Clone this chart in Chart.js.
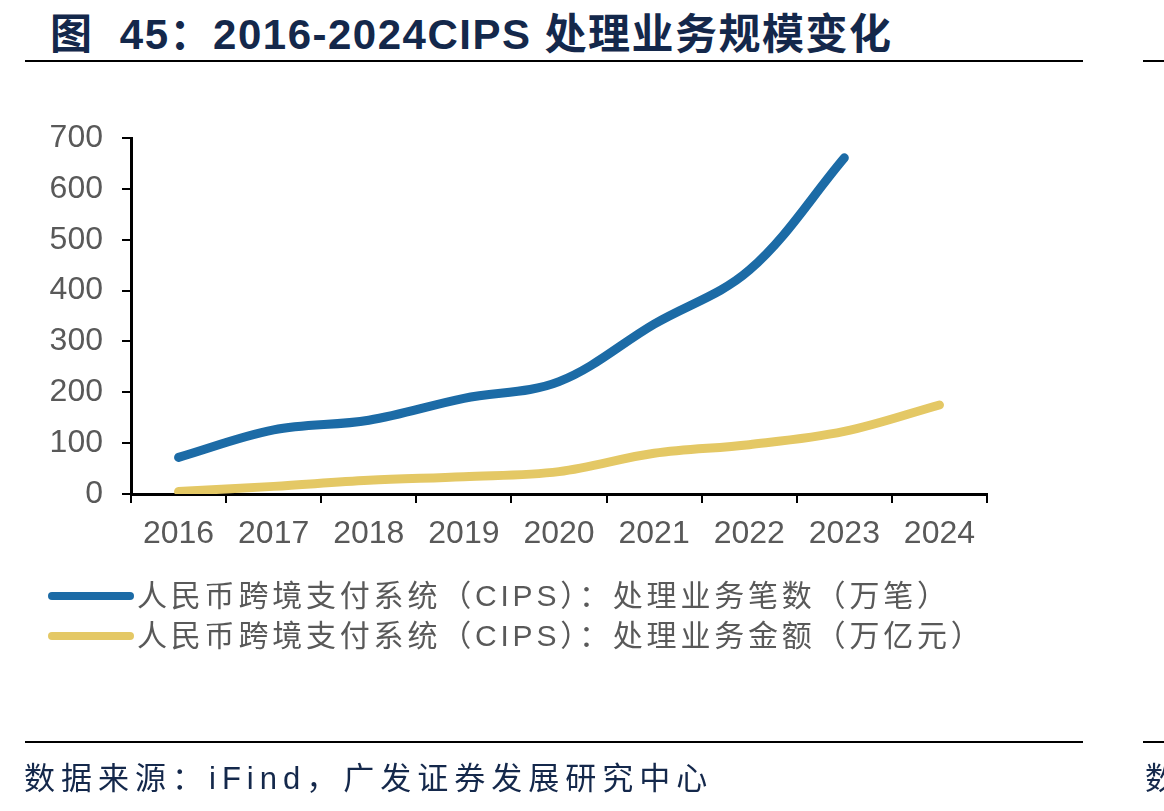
<!DOCTYPE html>
<html>
<head>
<meta charset="utf-8">
<script src="https://cdn.jsdelivr.net/npm/chart.js@4.4.1/dist/chart.umd.min.js"></script>
<style>
  body { margin: 0; background: #fff; width: 1164px; height: 811px; overflow: hidden; position: relative; font-family: "Liberation Sans", "Noto Sans CJK SC", sans-serif; }
  .title { position: absolute; left: 50px; top: 0px; font-size: 42px; letter-spacing: 1.5px; font-weight: bold; color: #14284b; white-space: nowrap; font-family: "Liberation Sans", "Noto Sans CJK SC", sans-serif; }
  .rule { position: absolute; height: 2px; background: #000; }
  #wrap { position: absolute; left: 0; top: 0; width: 1164px; height: 811px; }
  .legend { position: absolute; left: 48px; font-size: 30px; letter-spacing: 3.8px; color: #595959; white-space: nowrap; }
  .legend span.sw { display: inline-block; width: 86px; height: 8px; border-radius: 4px; vertical-align: middle; margin-right: 3px; position: relative; top: -2px; }
  .source { position: absolute; left: 24px; top: 753px; font-size: 31px; letter-spacing: 6px; color: #14284b; white-space: nowrap; }
</style>
</head>
<body>
<div class="title">图&nbsp; 45：2016-2024CIPS 处理业务规模变化</div>
<div class="rule" style="left:25px; top:60px; width:1058px;"></div>
<div class="rule" style="left:1143px; top:60px; width:21px;"></div>
<div id="wrap"><canvas id="grafico"></canvas></div>
<div class="legend" style="top:571px;"><span class="sw" style="background:#1c6ba6"></span>人民币跨境支付系统（CIPS）：处理业务笔数（万笔）</div>
<div class="legend" style="top:611px;"><span class="sw" style="background:#e4c865"></span>人民币跨境支付系统（CIPS）：处理业务金额（万亿元）</div>
<div class="rule" style="left:25px; top:741px; width:1058px;"></div>
<div class="rule" style="left:1143px; top:741px; width:21px;"></div>
<div class="source">数据来源：iFind，广发证券发展研究中心</div>
<div class="source" style="left:1145px;">数</div>
<script>
const anos = ['2016', '2017', '2018', '2019', '2020', '2021', '2022', '2023', '2024'];
const qtdNegocios = [72, 126, 145, 188, 221, 334, 440, 661, null];   // 万笔
const valorNegocios = [5, 15, 27, 34, 44, 80, 97, 123, 175];       // 万亿元
const ticksY = [0, 100, 200, 300, 400, 500, 600, 700];

const ctx = document.getElementById('grafico').getContext('2d');

const graficoLinhas = new Chart(ctx, {
  type: 'line',
  data: {
    labels: anos,
    datasets: [{
      label: '人民币跨境支付系统（CIPS）：处理业务笔数（万笔）',
      data: qtdNegocios,
      borderColor: '#1c6ba6',
      borderWidth: 9,
      borderCapStyle: 'round',
      pointRadius: 0,
      tension: 0.35,
      spanGaps: false
    }, {
      label: '人民币跨境支付系统（CIPS）：处理业务金额（万亿元）',
      data: valorNegocios,
      borderColor: '#e4c865',
      borderWidth: 9,
      borderCapStyle: 'round',
      pointRadius: 0,
      tension: 0.35
    }]
  },
  options: {
    responsive: true,
    maintainAspectRatio: false,
    animation: false,
    layout: {
      padding: { left: 0, top: 138, right: 177, bottom: 257 }
    },
    plugins: {
      legend: { display: false },
      tooltip: { enabled: false }
    },
    scales: {
      x: {
        offset: true,
        grid: {
          offset: true,
          drawOnChartArea: false,  // so os tracinhos do eixo
          color: '#000',
          lineWidth: 2,
          tickLength: 9
        },
        border: { color: '#000', width: 3 },
        ticks: {
          color: '#595959',
          padding: 12,
          maxRotation: 0,
          font: { size: 32, family: 'Liberation Sans' }
        },
        afterFit: (scale) => { scale.height = 60; }
      },
      y: {
        min: 0,
        max: 700,
        afterBuildTicks: (scale) => { scale.ticks = ticksY.map(v => ({ value: v })); },
        grid: {
          drawOnChartArea: false,
          color: '#000',
          lineWidth: 2,
          tickLength: 9
        },
        border: { color: '#000', width: 3 },
        ticks: {
          color: '#595959',
          padding: 19,
          font: { size: 32, family: 'Liberation Sans' }
        },
        afterFit: (scale) => { scale.width = 131; }
      }
    }
  }
});
</script>
</body>
</html>
